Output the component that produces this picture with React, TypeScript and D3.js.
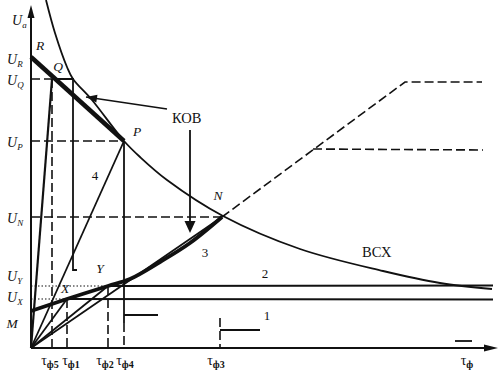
import React from "react";
import * as d3 from "d3";

const W = 500, H = 373;
type P2 = [number, number];

// data units: t (front time), u (voltage)
const bcxCurve: P2[] = [[15,348],[24,315],[36,281],[42,269],[61,248],[93,207],[109,191],[136,168],[192,132],[269,99],[352,77],[409,65],[461,59]];
const kobUpper: P2[] = [[0,291],[93,207]];
const kobLower: P2[] = [[0,37],[36,49],[77,62],[99,69],[129,86],[159,105],[191,131]];
const O: P2 = [0, 0];
const Q: P2 = [21, 269];
const Pp: P2 = [93, 207];
const N: P2 = [191, 131];
const X: P2 = [36, 49];
const Y: P2 = [77, 62];
const tEnd = 462;
const wave5Tail: P2[] = [[21,269],[42,269],[42,78],[46,78]];
const wave4Drop: P2[] = [[93,207],[93,25]];
const wave4DropDash: P2[] = [[93,25],[93,0]];
const wave3Dash: P2[] = [[191,131],[374,266],[451,266]];
const wave3Branch: P2[] = [[282,199],[452,198]];
const line1: P2[] = [[36,49],[tEnd,48.5]];
const line2: P2[] = [[77,62],[tEnd,62.5]];
const shortMarks: P2[][] = [[[93,33],[127,33]],[[189,18],[229,18]],[[424,7],[441,7]]];
const tau3Dash: P2[] = [[189,30],[189,0]];
const kobArrow1: P2[] = [[136,239],[55,251]];
const kobArrow2: P2[] = [[159,218],[159,115]];

const yLabels = [
  { sub: "а", u: 323, t: -19 },
  { sub: "R", u: 284, t: -24 },
  { sub: "Q", u: 263, t: -24 },
  { sub: "P", u: 201, t: -24 },
  { sub: "N", u: 125, t: -24 },
  { sub: "Y", u: 67, t: -24 },
  { sub: "X", u: 46, t: -24 },
];
const xLabels = [
  { sub: "ф5", t: 19 },
  { sub: "ф1", t: 40 },
  { sub: "ф2", t: 74 },
  { sub: "ф4", t: 94 },
  { sub: "ф3", t: 185 },
  { sub: "ф", t: 436 },
];
const pointLabels = [
  { s: "R", t: 9, u: 298 },
  { s: "Q", t: 27, u: 277 },
  { s: "P", t: 106, u: 212 },
  { s: "N", t: 187, u: 148 },
  { s: "X", t: 34, u: 55 },
  { s: "Y", t: 69, u: 75 },
  { s: "M", t: -19, u: 20 },
];
const numLabels = [
  { s: "4", t: 64, u: 168 },
  { s: "3", t: 174, u: 91 },
  { s: "2", t: 234, u: 70 },
  { s: "1", t: 236, u: 28 },
];

export default function App() {
  const x = d3.scaleLinear().domain([0, 466]).range([31, 497]);
  const y = d3.scaleLinear().domain([0, 343]).range([348, 5]);
  const ln = d3.line<P2>().x(d => x(d[0])).y(d => y(d[1]));
  const curve = d3.line<P2>().x(d => x(d[0])).y(d => y(d[1])).curve(d3.curveCatmullRom.alpha(0.5));
  const font = "'Liberation Serif', 'DejaVu Serif', serif";

  const arrowHead = (from: P2, to: P2, len: number, half: number) => {
    const x1 = x(from[0]), y1 = y(from[1]), x2 = x(to[0]), y2 = y(to[1]);
    const dx = x2 - x1, dy = y2 - y1, L = Math.hypot(dx, dy);
    const ux = dx / L, uy = dy / L;
    const bx = x2 - ux * len, by = y2 - uy * len;
    return `M${x2},${y2}L${bx - uy * half},${by + ux * half}L${bx + uy * half},${by - ux * half}Z`;
  };

  const stroke = "#111";
  return (
    <svg width={W} height={H} style={{ display: "block", position: "absolute", left: 0, top: 0, background: "#fff" }} fontFamily={font}>
      {/* axes */}
      <path d={ln([[0, 0], [0, 333]])!} stroke={stroke} strokeWidth={2} fill="none" />
      <path d={arrowHead([0, 300], [0, 343], 13, 3.5)} fill={stroke} />
      <path d={ln([[0, 0], [456, 0]])!} stroke={stroke} strokeWidth={2} fill="none" />
      <path d={arrowHead([400, 0], [467, 0], 14, 3.5)} fill={stroke} />

      {/* dashed / dotted guides */}
      <g stroke={stroke} strokeWidth={1.6} fill="none" strokeDasharray="9,4">
        <path d={ln([[0, Q[1]], Q])!} />
        <path d={ln([[0, Pp[1]], Pp])!} />
        <path d={ln([[0, N[1]], N])!} />
        <path d={ln([Q, [Q[0], 0]])!} />
        <path d={ln([X, [X[0], 0]])!} />
        <path d={ln([Y, [Y[0], 0]])!} />
        <path d={ln(wave4DropDash)!} />
        <path d={ln(tau3Dash)!} />
        <path d={ln(wave3Dash)!} />
        <path d={ln(wave3Branch)!} />
      </g>
      <g stroke={stroke} strokeWidth={1.2} fill="none" strokeDasharray="1.5,2">
        <path d={ln([[0, Y[1]], Y])!} />
        <path d={ln([[0, X[1]], X])!} />
      </g>

      {/* waves */}
      <g stroke={stroke} strokeWidth={1.8} fill="none">
        <path d={ln([O, Q])!} strokeWidth={2.2} />
        <path d={ln(wave5Tail)!} />
        <path d={ln([O, Pp])!} />
        <path d={ln(wave4Drop)!} />
        <path d={ln([O, X])!} />
        <path d={ln([O, Y])!} />
        <path d={ln([O, N])!} />
        <path d={ln(line1)!} />
        <path d={ln(line2)!} />
        {shortMarks.map((m, i) => <path key={i} d={ln(m)!} />)}
      </g>

      {/* volt-second characteristic */}
      <path d={curve(bcxCurve)!} stroke={stroke} strokeWidth={1.8} fill="none" />

      {/* KOB thick lines */}
      <path d={ln(kobUpper)!} stroke={stroke} strokeWidth={4.5} fill="none" />
      <path d={curve(kobLower)!} stroke={stroke} strokeWidth={3.8} fill="none" />

      {/* KOB arrows */}
      <path d={ln(kobArrow1)!} stroke={stroke} strokeWidth={1.4} fill="none" />
      <path d={arrowHead(kobArrow1[0], kobArrow1[1], 11, 4)} fill={stroke} />
      <path d={ln([kobArrow2[0], [kobArrow2[1][0], kobArrow2[1][1] + 8]])!} stroke={stroke} strokeWidth={1.8} fill="none" />
      <path d={arrowHead(kobArrow2[0], kobArrow2[1], 12, 5.5)} fill={stroke} />

      {/* texts */}
      <text x={x(141)} y={y(225)} fontSize={14.5} fill={stroke}>КОВ</text>
      <text x={x(331)} y={y(91)} fontSize={14.5} fill={stroke}>ВСХ</text>

      {yLabels.map((l, i) => (
        <text key={i} x={x(l.t)} y={y(l.u)} fontSize={14} fontStyle="italic" fill={stroke}>
          U<tspan fontSize={9} dy={3}>{l.sub}</tspan>
        </text>
      ))}
      {xLabels.map((l, i) => (
        <text key={i} x={x(l.t)} y={365} fontSize={14} fill={stroke} textAnchor="middle">
          τ<tspan fontSize={10} dy={3} fontWeight="bold">{l.sub}</tspan>
        </text>
      ))}
      {pointLabels.map((l, i) => (
        <text key={i} x={x(l.t)} y={y(l.u)} fontSize={13.5} fontStyle="italic" fill={stroke} textAnchor="middle">{l.s}</text>
      ))}
      {numLabels.map((l, i) => (
        <text key={i} x={x(l.t)} y={y(l.u)} fontSize={13} fill={stroke} textAnchor="middle">{l.s}</text>
      ))}
    </svg>
  );
}
